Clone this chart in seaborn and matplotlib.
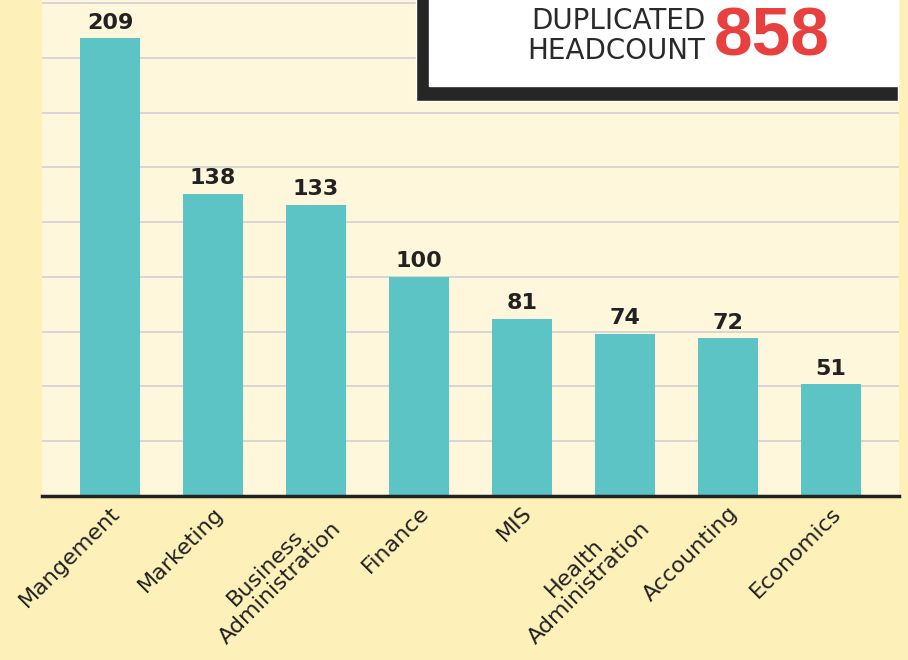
import matplotlib
matplotlib.use("Agg")
import matplotlib.pyplot as plt
import matplotlib.patches as mpatches
import pandas as pd
import seaborn as sns

majors = ["Mangement", "Marketing", "Business\nAdministration", "Finance", "MIS",
          "Health\nAdministration", "Accounting", "Economics"]
headcount = [209, 138, 133, 100, 81, 74, 72, 51]
total_label = "858"

outer_bg = "#FDF0B9"
plot_bg = "#FEF7DB"
bar_color = "#5CC4C5"

sns.set_theme(style="white")
plt.rcParams['font.family'] = ['DejaVu Sans']

df = pd.DataFrame({"major": majors, "count": headcount})

fig = plt.figure(figsize=(9.08, 6.6), dpi=100, facecolor=outer_bg)
ax = fig.add_axes([42 / 908, 164 / 660, 857 / 908, 496 / 660])
ax.set_facecolor(plot_bg)

sns.barplot(data=df, x="major", y="count", color=bar_color, width=0.58,
            saturation=1, linewidth=0, ax=ax, zorder=3)

ax.set_xlim(-0.66, 7.66)
ax.set_ylim(0, 226.4)
ax.set_yticks(range(25, 226, 25))
ax.yaxis.grid(True, color="#D4D4D4", linewidth=1.3, zorder=0)
ax.set_yticklabels([])
ax.tick_params(axis="y", length=0)
ax.tick_params(axis="x", length=0, pad=5)
ax.set_xlabel("")
ax.set_ylabel("")
for s in ["top", "right", "left"]:
    ax.spines[s].set_visible(False)
ax.spines["bottom"].set_color("#222222")
ax.spines["bottom"].set_linewidth(2.5)
ax.spines["bottom"].set_zorder(5)

for lbl in ax.get_xticklabels():
    lbl.set_rotation(45)
    lbl.set_ha("right")
    lbl.set_va("top")
    lbl.set_rotation_mode("anchor")
    lbl.set_multialignment("center")
    lbl.set_linespacing(1.1)
    lbl.set_fontsize(16)
    lbl.set_color("#222222")

ax.bar_label(ax.containers[0], padding=4, fontsize=16, fontweight="bold", color="#222222")

# headline box in the upper right
fig.patches.append(mpatches.Rectangle((416 / 908, (660 - 101) / 660), (898 - 416) / 908, 101 / 660 + 0.01,
                                      transform=fig.transFigure, facecolor="#262626", zorder=10))
fig.patches.append(mpatches.Rectangle((429 / 908, (660 - 86) / 660), (898 - 429) / 908, 86 / 660 + 0.01,
                                      transform=fig.transFigure, facecolor="white", zorder=11))
fig.text(705 / 908, (660 - 21) / 660, "DUPLICATED", ha="right", va="center", fontsize=20,
         color="#2a2a2a", zorder=12)
fig.text(705 / 908, (660 - 51) / 660, "HEADCOUNT", ha="right", va="center", fontsize=20,
         color="#2a2a2a", zorder=12)
fig.text(714 / 908, (660 - 38) / 660, total_label, ha="left", va="center", fontsize=50,
         fontweight="bold", family=["Liberation Sans", "DejaVu Sans"], color="#E8403F", zorder=12)

fig.savefig("out.png", dpi=100, facecolor=outer_bg)
